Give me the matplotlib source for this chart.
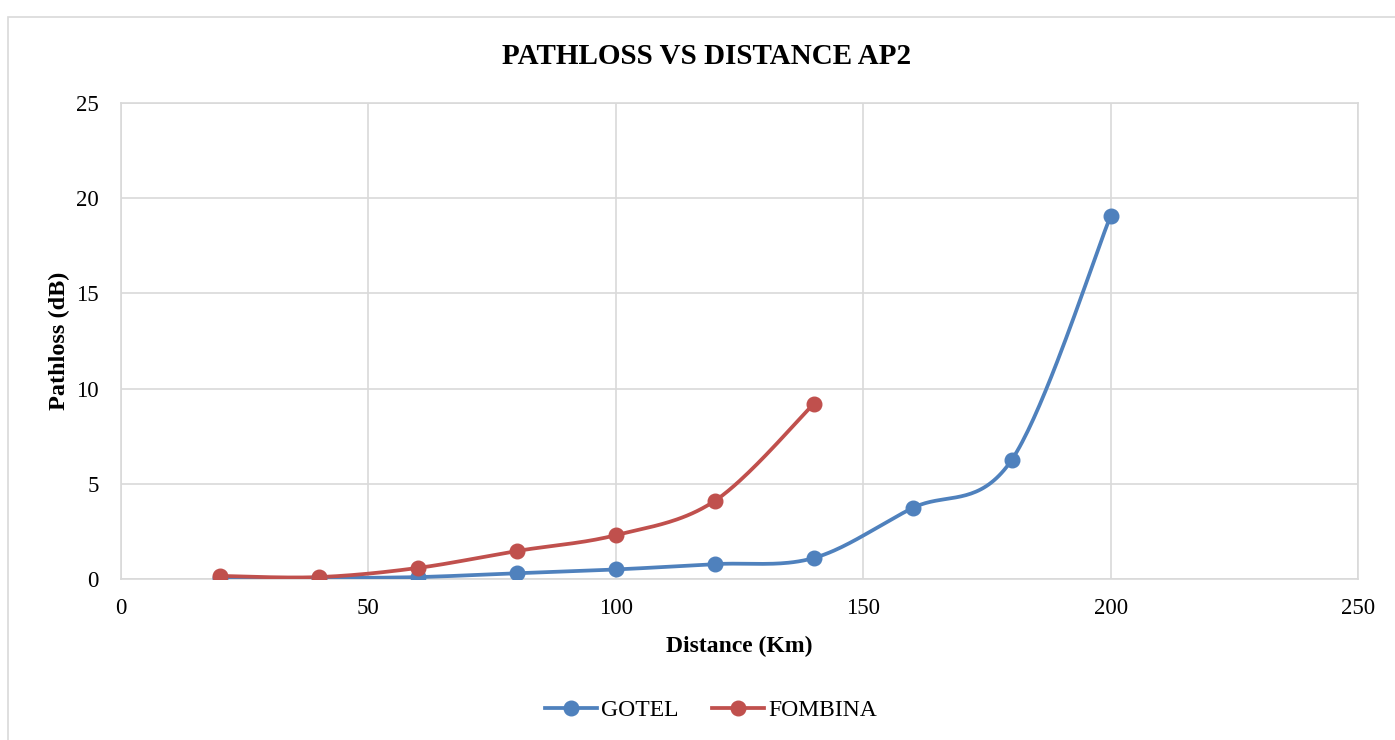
import numpy as np
import matplotlib
matplotlib.use("Agg")
import matplotlib.pyplot as plt
from matplotlib.patches import Rectangle

plt.rcParams['font.family'] = ['Liberation Serif', 'DejaVu Serif']

gotel_x = [20, 40, 60, 80, 100, 120, 140, 160, 180, 200]
gotel_y = [0.05, 0.05, 0.1, 0.3, 0.5, 0.78, 1.1, 3.73, 6.25, 19.07]
fombina_x = [20, 40, 60, 80, 100, 120, 140]
fombina_y = [0.16, 0.1, 0.58, 1.47, 2.3, 4.1, 9.19]


def smooth(xs, ys, n=40):
    # Excel-like smoothed line: Bezier segments with Catmull-Rom control points
    p = np.column_stack([xs, ys]).astype(float)
    p = np.vstack([p[0], p, p[-1]])
    out = []
    t = np.linspace(0, 1, n)[:, None]
    for i in range(1, len(p) - 2):
        p0, p1, p2, p3 = p[i - 1], p[i], p[i + 1], p[i + 2]
        c1 = p1 + (p2 - p0) / 6
        c2 = p2 - (p3 - p1) / 6
        seg = ((1 - t) ** 3) * p1 + 3 * ((1 - t) ** 2) * t * c1 + 3 * (1 - t) * t ** 2 * c2 + t ** 3 * p2
        out.append(seg)
    out = np.vstack(out)
    return out[:, 0], out[:, 1]


fig = plt.figure(figsize=(13.95, 7.4), dpi=100)
ax = fig.add_axes([0.0867, 0.2176, 0.8868, 0.6432])

fig.patches.append(Rectangle((8 / 1395, -0.05), 1.1, 1 - 17 / 740 + 0.05,
                             transform=fig.transFigure, fill=False,
                             edgecolor="#d9d9d9", linewidth=1.2))

blue = "#4f81bd"
red = "#c0504d"
for xs, ys, c, name in [(gotel_x, gotel_y, blue, "GOTEL"), (fombina_x, fombina_y, red, "FOMBINA")]:
    sx, sy = smooth(xs, ys)
    ax.plot(sx, sy, color=c, linewidth=2.7, zorder=3)
    ax.plot(xs, ys, 'o', color=c, markersize=10.5, zorder=4)
    ax.plot([], [], '-o', color=c, linewidth=2.7, markersize=10.5, label=name)

ax.set_xlim(0, 250)
ax.set_ylim(0, 25)
ax.set_xticks(range(0, 251, 50))
ax.set_yticks(range(0, 26, 5))
ax.grid(True, color="#d9d9d9", linewidth=1.2)
ax.set_axisbelow(True)
for s in ax.spines.values():
    s.set_color("#d9d9d9")
    s.set_linewidth(1.2)
ax.tick_params(length=0, labelsize=16.5)
ax.tick_params(axis="x", pad=14)
ax.tick_params(axis="y", pad=16)

fig.text(707 / 1395, 1 - 57 / 740, "PATHLOSS VS DISTANCE AP2", fontsize=21,
         fontweight="bold", ha="center", va="center")
ax.set_xlabel("Distance (Km)", fontsize=17, fontweight="bold", labelpad=12)
ax.set_ylabel("Pathloss (dB)", fontsize=17.5, fontweight="bold", labelpad=4)

fig.legend(loc="center", bbox_to_anchor=(711 / 1395, 0.04), ncol=2, frameon=False,
           fontsize=17, handlelength=2.2, columnspacing=1.4, handletextpad=0.2)

fig.savefig("out.png", dpi=100)
